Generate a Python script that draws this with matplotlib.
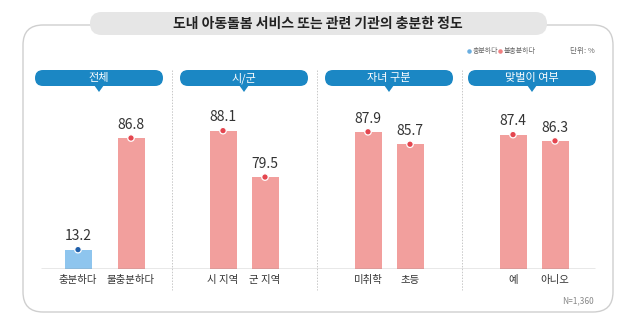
import numpy as np
import matplotlib
matplotlib.use('Agg')
import matplotlib.pyplot as plt
from matplotlib.patches import FancyBboxPatch, Polygon

plt.rcParams['font.family'] = ['Noto Sans CJK KR', 'DejaVu Sans']

# data
title = '도내 아동돌봄 서비스 또는 관련 기관의 충분한 정도'
groups = ['전체', '시/군', '자녀 구분', '맞벌이 여부']
labels = [['충분하다', '불충분하다'], ['시 지역', '군 지역'],
          ['미취학', '초등'], ['예', '아니오']]
values = [[13.2, 86.8], [88.1, 79.5], [87.9, 85.7], [87.4, 86.3]]
kinds = [['충분', '불충분'], ['불충분', '불충분'],
         ['불충분', '불충분'], ['불충분', '불충분']]
note = 'N=1,360'

# styles
bar_color = {'충분': '#8ec5ee', '불충분': '#f29f9d'}
dot_color = {'충분': '#1f5faa', '불충분': '#e4464f'}
pill_blue = '#1b87c4'

W, H = 640, 330
fig = plt.figure(figsize=(6.4, 3.3), dpi=100)

# background layer in pixel coordinates (y from top)
bg = fig.add_axes([0, 0, 1, 1])
bg.set_xlim(0, W)
bg.set_ylim(H, 0)
bg.axis('off')

bg.add_patch(FancyBboxPatch((23, 25), 590, 287,
                            boxstyle='round,pad=0,rounding_size=20',
                            fc='white', ec='#cfcfcf', lw=1.0))
bg.add_patch(FancyBboxPatch((90, 12), 457, 23,
                            boxstyle='round,pad=0,rounding_size=11.5',
                            fc='#e6e6e6', ec='none'))
bg.text(318, 23.5, title, ha='center', va='center', fontsize=10,
        fontweight='bold', color='#222222')

# legend
bg.scatter([469], [51], s=5, color='#6aaee0')
bg.text(473, 51, '충분하다', ha='left', va='center', fontsize=5, color='#666666')
bg.scatter([500], [51], s=5, color='#f07f80')
bg.text(504, 51, '불충분하다', ha='left', va='center', fontsize=5, color='#666666')
bg.text(595, 51, '단위: %', ha='right', va='center', fontsize=5.5, color='#666666')

# group header pills and separators
pill_left = [35, 180, 325, 468]
for i, g in enumerate(groups):
    x0 = pill_left[i]
    cx = x0 + 64
    bg.add_patch(FancyBboxPatch((x0, 70), 128, 16,
                                boxstyle='round,pad=0,rounding_size=8',
                                fc=pill_blue, ec='none'))
    bg.add_patch(Polygon([(cx - 5, 85), (cx + 5, 85), (cx, 92)],
                         closed=True, fc=pill_blue, ec='none'))
    bg.text(cx, 78, g, ha='center', va='center', fontsize=8, color='white')
for sx in [172, 317, 462]:
    bg.plot([sx, sx], [70, 290], ls=(0, (1.5, 1.5)), lw=0.7, color='#c8c8c8')

bg.text(594, 301, note, ha='right', va='center', fontsize=6, color='#888888')

# bar layer: x in pixels, y in percent on a stretched (non-linear) scale
base_px = 269
knots_v = [0, 15, 80, 114]
knots_h = [0, 22, 92.5, 285]


def fwd(v):
    return np.interp(v, knots_v, knots_h)


def inv(h):
    return np.interp(h, knots_h, knots_v)


ax = fig.add_axes([0, (H - base_px) / H, 1, base_px / H])
ax.set_yscale('function', functions=(fwd, inv))
ax.set_xlim(0, W)
ax.set_ylim(0, float(inv(base_px)))
ax.patch.set_alpha(0)
for s in ax.spines.values():
    s.set_visible(False)

centers = [104.5, 244, 389, 534]
half_gap = [26.5, 21, 21, 21]
xs, vs, cs, dcs, tl = [], [], [], [], []
for i in range(len(groups)):
    for j in range(2):
        xs.append(centers[i] + (2 * j - 1) * half_gap[i])
        vs.append(values[i][j])
        cs.append(bar_color[kinds[i][j]])
        dcs.append(dot_color[kinds[i][j]])
        tl.append(labels[i][j])

ax.bar(xs, vs, width=27, color=cs, zorder=2)
ax.scatter(xs, vs, s=22, color=dcs, edgecolor='white', linewidth=0.9, zorder=3)
for x, v in zip(xs, vs):
    ax.annotate(f'{v:.1f}', (x, v), xytext=(0, 4.5), textcoords='offset points',
                ha='center', va='bottom', fontsize=10, color='#333333')
ax.hlines(0, 41, 595, color='#8a8a8a', lw=1.0, zorder=4)

ax.set_xticks(xs, tl)
ax.tick_params(axis='x', length=0, pad=4, labelsize=7.5, labelcolor='#333333')
ax.set_yticks([])
ax.minorticks_off()

fig.savefig('out.png', dpi=100)
